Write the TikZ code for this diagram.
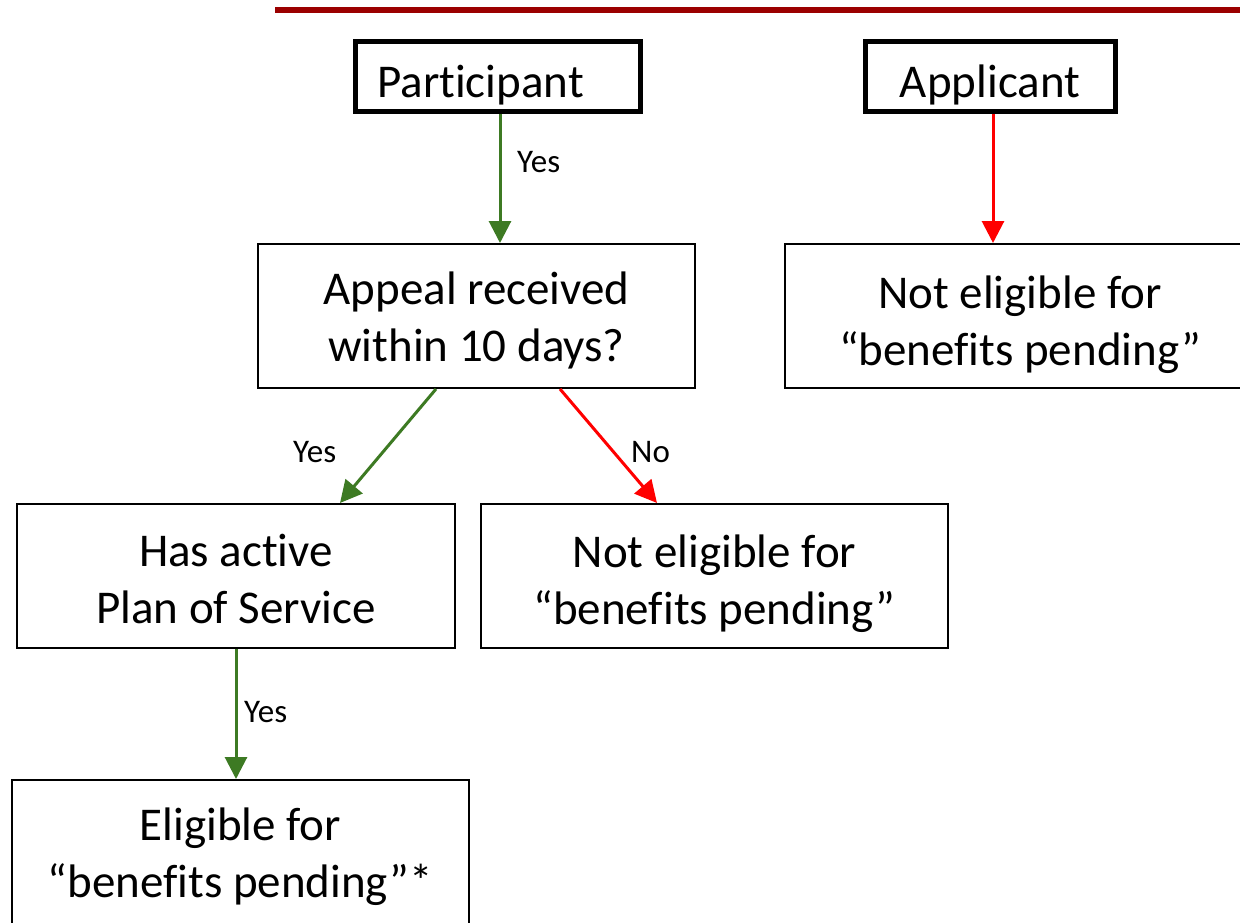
\documentclass[tikz,border=0pt]{standalone}
\usepackage{fontspec}
\setmainfont{Carlito}[Ligatures=NoCommon]
\usetikzlibrary{arrows.meta}
\definecolor{topred}{RGB}{155,0,0}
\definecolor{ygreen}{RGB}{61,122,35}
\definecolor{nred}{RGB}{255,0,0}
\tikzset{
  x=1pt, y=-1pt,
  box/.style={draw=black, line width=2pt, fill=white, align=center, inner sep=0pt,
    font=\fontsize{47}{56}\selectfont, text depth=0pt},
  bl/.style={text height=#1},
  topbox/.style={box, line width=5pt},
  garrow/.style={draw=ygreen, line width=3pt, -{Triangle[width=22pt,length=22pt]}},
  rarrow/.style={draw=nred, line width=3pt, -{Triangle[width=22pt,length=22pt]}},
  lbl/.style={inner sep=0pt, anchor=base west, font=\fontsize{33}{40}\selectfont},
}
\begin{document}
\begin{tikzpicture}
\clip (0,0) rectangle (1240,923);
\fill[white] (0,0) rectangle (1240,923);
\draw[line width=6pt, topred] (275,10) -- (1245,10);

\node[topbox, bl=42pt, minimum width=285pt, minimum height=70pt] (part) at (497.5,77) {Participant\hspace{34pt}};
\node[topbox, bl=42pt, minimum width=250pt, minimum height=70pt] (appl) at (990,77) {Applicant};

\node[box, bl=90pt, font=\fontsize{47}{57}\selectfont, minimum width=437pt, minimum height=144pt] (appeal) at (476.5,316) {Appeal received\\within 10 days?};
\node[box, bl=98pt, font=\fontsize{47}{57}\selectfont, minimum width=470pt, minimum height=144pt] (ne1) at (1020,316) {Not eligible for\\“benefits pending”};
\node[box, bl=94pt, font=\fontsize{47}{57}\selectfont, minimum width=438pt, minimum height=144pt] (has) at (236,576) {Has active\\Plan of Service};
\node[box, bl=96pt, font=\fontsize{47}{57}\selectfont, minimum width=467pt, minimum height=144pt] (ne2) at (714.5,576) {Not eligible for\\“benefits pending”};
\node[box, bl=84pt, font=\fontsize{47}{57}\selectfont, minimum width=457pt, minimum height=150pt] (elig) at (240.5,855) {Eligible for\\“benefits pending”*};

\draw[garrow] ([xshift=2.5pt]part.south) -- ([xshift=2.5pt]part.south |- appeal.north);
\node[lbl] (y1) at (517,172) {Yes};
\draw[rarrow] ([xshift=3pt]appl.south) -- ([xshift=3pt]appl.south |- ne1.north);

\draw[garrow] ([xshift=-40.5pt]appeal.south) -- ([xshift=104pt]has.north);
\node[lbl] (y2) at (293,462) {Yes};
\draw[rarrow] ([xshift=83.5pt]appeal.south) -- ([xshift=-57.5pt]ne2.north);
\node[lbl] (n1) at (631,462) {No};

\draw[garrow] (has.south) -- (has.south |- elig.north);
\node[lbl] (y3) at (244,722) {Yes};
\end{tikzpicture}
\end{document}
